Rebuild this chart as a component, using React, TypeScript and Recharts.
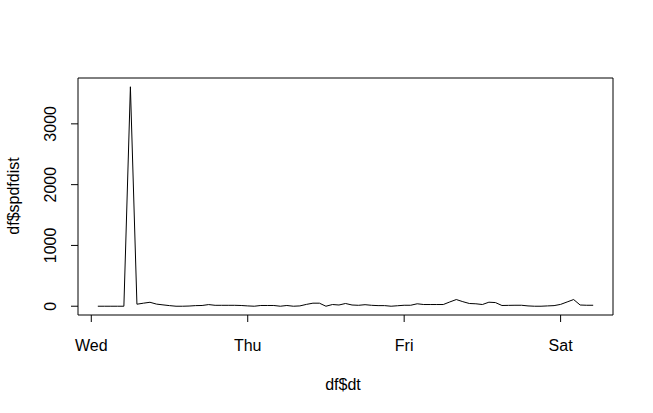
import { LineChart, Line, XAxis, YAxis, ReferenceArea } from 'recharts';

// hours after Wed 00:00
const hours = [
  1, 2, 3, 4, 5, 6, 7, 8, 9, 10, 11, 12, 13, 14, 15, 16, 17, 18, 19, 20,
  21, 22, 23, 24, 25, 26, 27, 28, 29, 30, 31, 32, 33, 34, 35, 36, 37, 38, 39, 40,
  41, 42, 43, 44, 45, 46, 47, 48, 49, 50, 51, 52, 53, 54, 55, 56, 57, 58, 59, 60,
  61, 62, 63, 64, 65, 66, 67, 68, 69, 70, 71, 72, 73, 74, 75, 76, 77,
];

const spdfdist = [
  0, 0, 0, 0, 0, 3610, 33, 50, 65, 35, 22, 10, 0, 0, 3, 10, 12, 27, 15, 15,
  15, 15, 12, 5, 0, 12, 12, 12, 0, 12, 0, 5, 30, 50, 50, 0, 28, 20, 45, 20,
  15, 25, 15, 10, 10, 0, 8, 16, 16, 40, 28, 28, 28, 28, 70, 110, 75, 45, 40, 28,
  66, 60, 12, 14, 16, 16, 5, 0, 0, 5, 10, 30, 70, 110, 20, 16, 16,
];

const dayTicks = [0, 24, 48, 72];
const dayLabels = ['Wed', 'Thu', 'Fri', 'Sat'];
const yTicks = [0, 1000, 2000, 3000];

const data = hours.map((h, i) => ({ h, v: spdfdist[i] }));

// R pads each axis range by 4%
const xPad = (hours[hours.length - 1] - hours[0]) * 0.04;
const xMin = hours[0] - xPad;
const xMax = hours[hours.length - 1] + xPad;
const yTop = Math.max(...spdfdist);
const yMin = -yTop * 0.04;
const yMax = yTop * 1.04;

const font = '"Liberation Sans", Arial, sans-serif';

const XTick = (props: any) => {
  const { x, y, payload } = props;
  return (
    <text x={x} y={y + 27} textAnchor="middle" fontFamily={font} fontSize={16} fill="#000">
      {dayLabels[dayTicks.indexOf(payload.value)]}
    </text>
  );
};

const YTick = (props: any) => {
  const { x, y, payload } = props;
  return (
    <text
      transform={`translate(${x - 13},${y}) rotate(-90)`}
      textAnchor="middle"
      fontFamily={font}
      fontSize={16}
      fill="#000"
    >
      {payload.value}
    </text>
  );
};

export default function App() {
  return (
    <div style={{ position: 'fixed', left: 0, top: 0, width: 653, height: 413, background: '#fff' }}>
      <LineChart width={653} height={413} data={data} margin={{ top: 78, right: 40, bottom: 0, left: 0 }}>
        <XAxis
          dataKey="h"
          type="number"
          domain={[xMin, xMax]}
          ticks={dayTicks}
          allowDataOverflow
          axisLine={false}
          tickLine={{ stroke: '#000' }}
          tickSize={7}
          height={98}
          tick={<XTick />}
          label={{
            content: () => (
              <text x={343} y={390} textAnchor="middle" fontFamily={font} fontSize={16} fill="#000">
                df$dt
              </text>
            ),
          }}
        />
        <YAxis
          type="number"
          domain={[yMin, yMax]}
          ticks={yTicks}
          allowDataOverflow
          axisLine={false}
          tickLine={{ stroke: '#000' }}
          tickSize={7}
          width={78}
          tick={<YTick />}
          label={{
            content: () => (
              <text
                transform="translate(19,196) rotate(-90)"
                textAnchor="middle"
                fontFamily={font}
                fontSize={16}
                fill="#000"
              >
                df$spdfdist
              </text>
            ),
          }}
        />
        <ReferenceArea
          x1={xMin}
          x2={xMax}
          y1={yMin}
          y2={yMax}
          fill="none"
          stroke="#000"
          strokeWidth={1}
          ifOverflow="visible"
        />
        <Line
          type="linear"
          dataKey="v"
          stroke="#000"
          strokeWidth={1}
          dot={false}
          isAnimationActive={false}
        />
      </LineChart>
    </div>
  );
}
